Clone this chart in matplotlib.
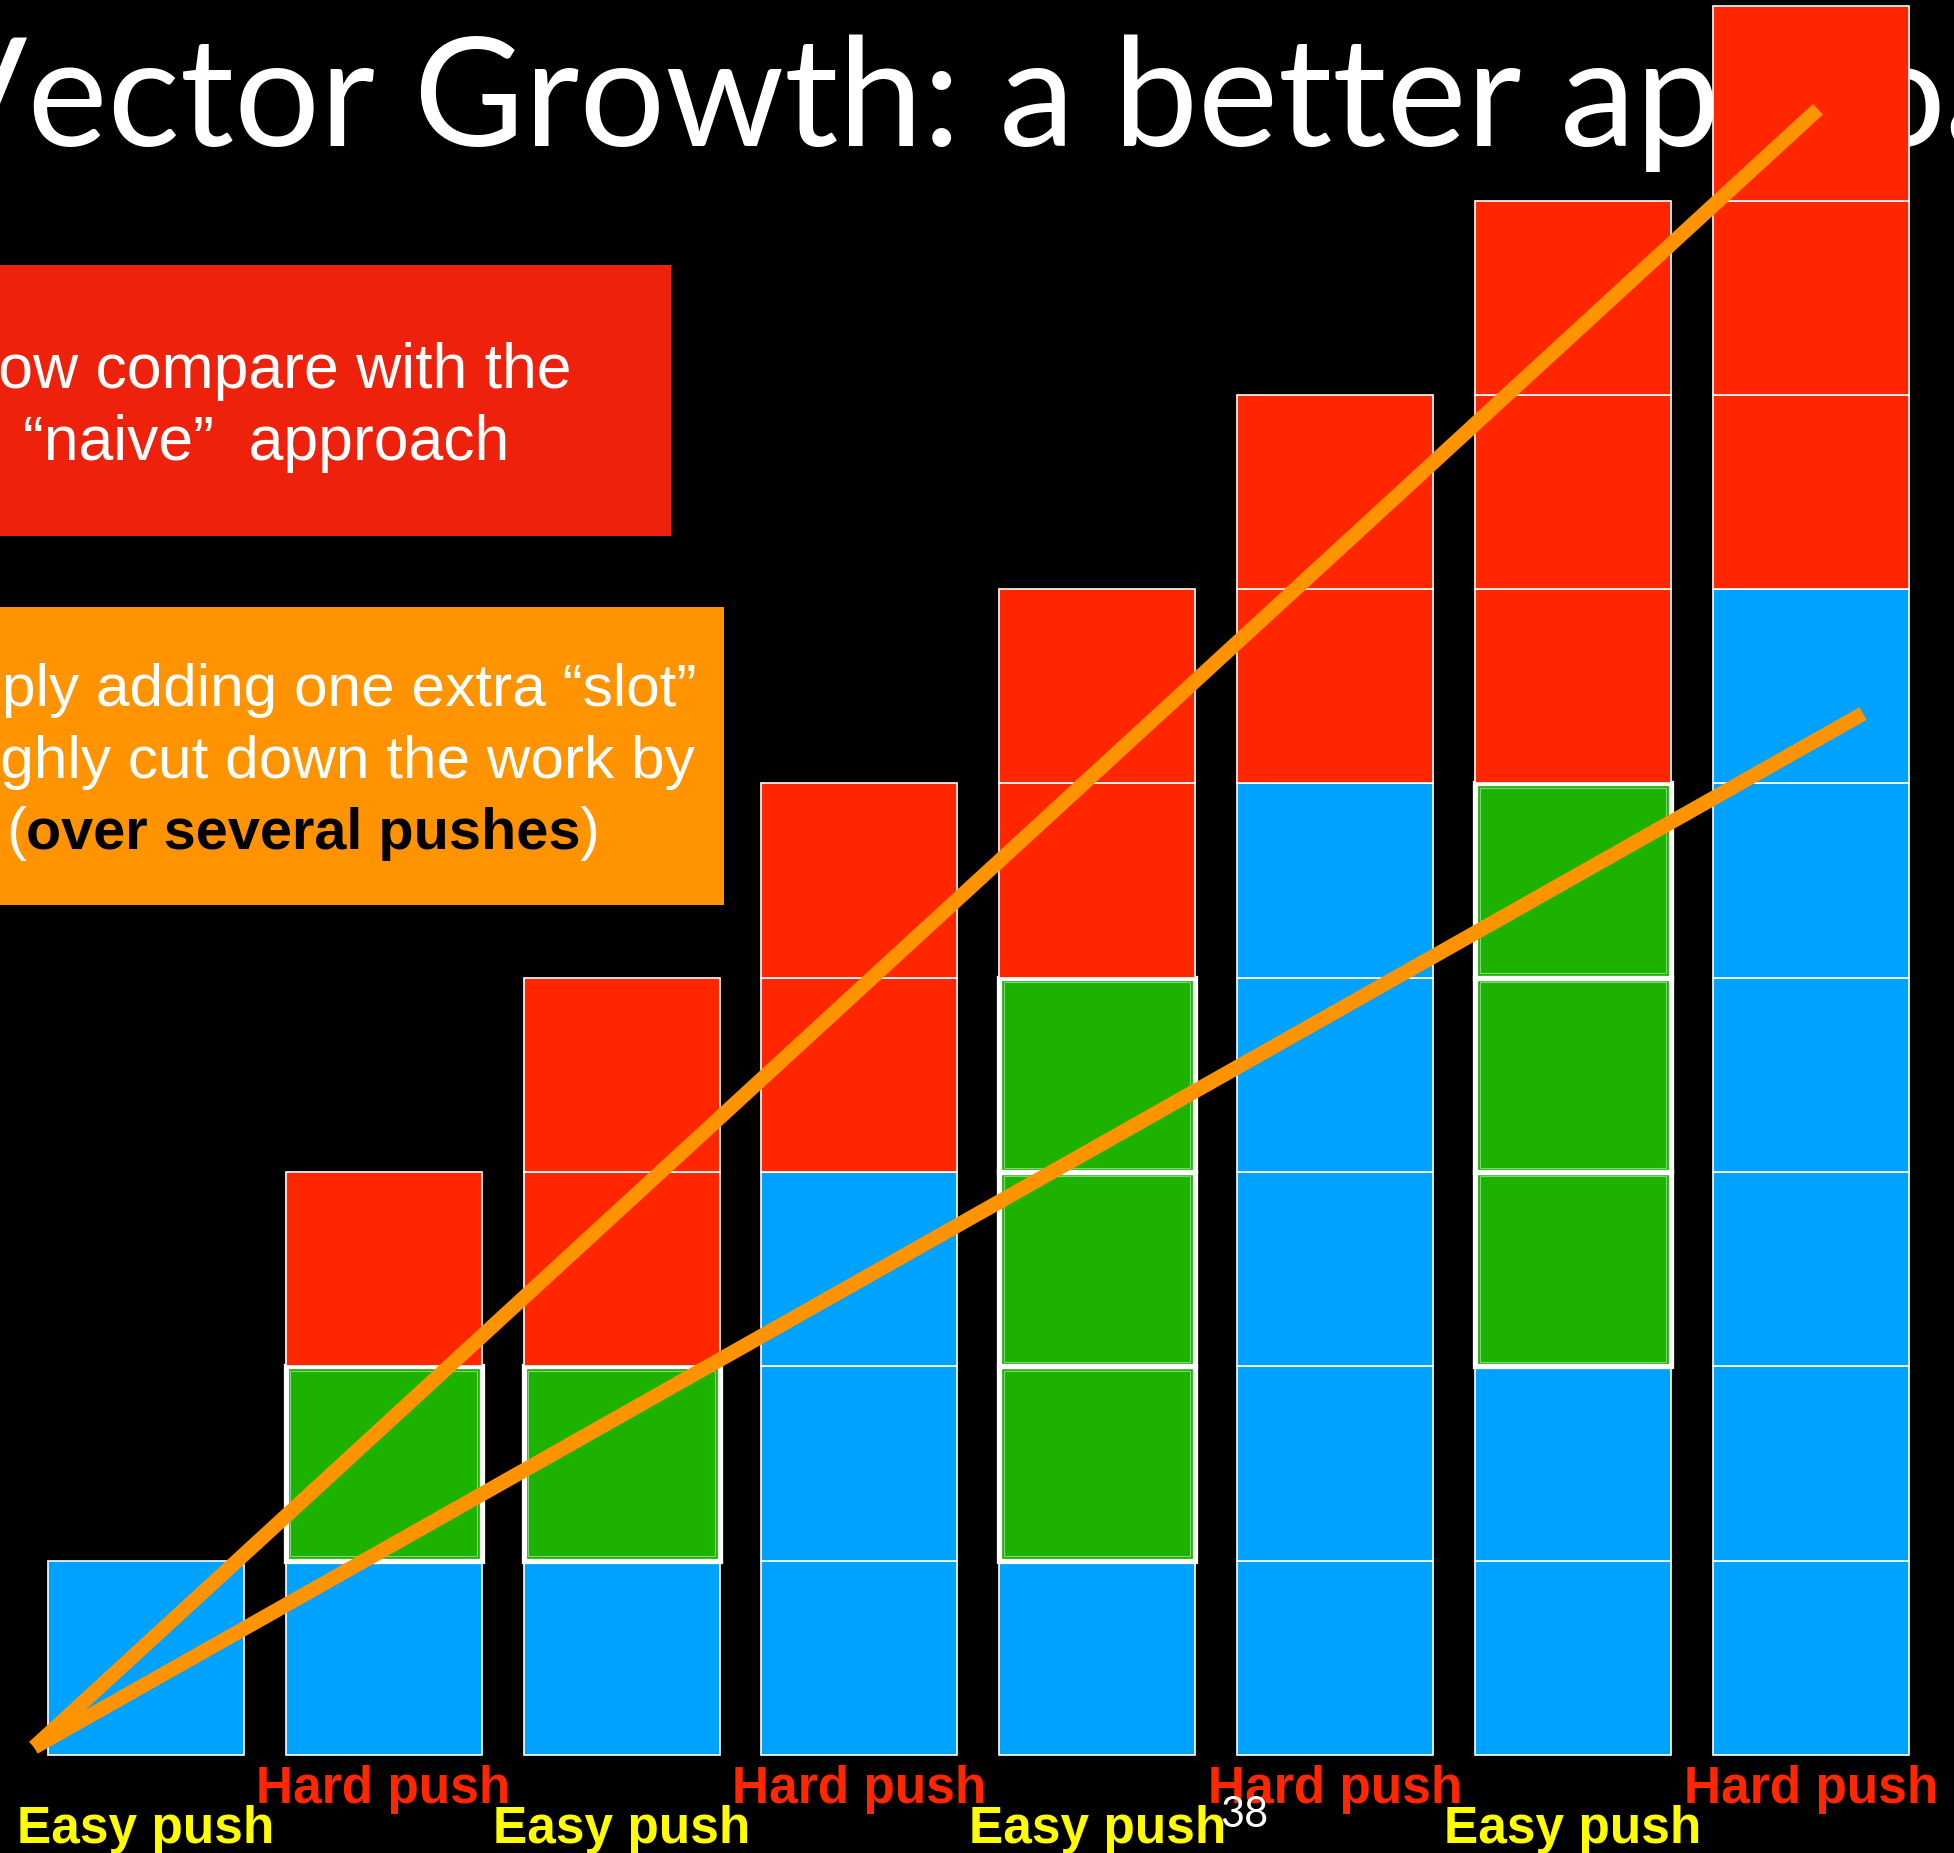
import matplotlib
matplotlib.use("Agg")
import matplotlib.pyplot as plt
from matplotlib.patches import Rectangle

# slots per push, bottom to top: filled (blue), copied (green), spare (red)
pushes = ["Easy push", "Hard push", "Easy push", "Hard push",
          "Easy push", "Hard push", "Easy push", "Hard push"]
filled = [1, 1, 1, 3, 1, 5, 2, 6]
copied = [0, 1, 1, 0, 3, 0, 3, 0]
spare = [0, 1, 2, 2, 2, 2, 3, 3]

# work trend lines (column index, slots)
naive_x = [-0.47, 7.03]
naive_y = [0.04, 8.47]
better_x = [-0.47, 7.22]
better_y = [0.04, 5.36]

BLUE, GREEN, RED = "#00A2FF", "#1DB100", "#FF2600"
ORANGE, BOXRED, YELLOW = "#FF9300", "#EE220C", "#FFFB00"
W, H = 1954, 1853


def fx(px):
    return px / W


def fy(py):
    return 1 - py / H


fig = plt.figure(figsize=(W / 100, H / 100), dpi=100, facecolor="black")
ax = fig.add_axes([0, 0, 1, 1])
ax.set_facecolor("black")
ax.set_xlim(-0.613, 7.602)
ax.set_ylim(-0.504, 9.032)
ax.axis("off")

# title sits under the stacks
ax.text(fx(-75), fy(146), "Vector Growth: a better approach", transform=fig.transFigure,
        fontsize=109, family="Lato", fontweight="normal", color="white",
        va="baseline", ha="left", zorder=0.5)

bw = 0.824
for i in range(len(pushes)):
    level = 0
    for k in range(filled[i]):
        ax.bar(i, 1, bottom=level, width=bw, color=BLUE, edgecolor="white", linewidth=1.2, zorder=2)
        level += 1
    for k in range(copied[i]):
        ax.bar(i, 1, bottom=level, width=bw, color=GREEN, edgecolor="white", linewidth=3.8, zorder=2)
        ax.bar(i, 0.955, bottom=level + 0.0225, width=bw - 0.04, color="none",
               edgecolor="#7FD67A", linewidth=0.8, zorder=2.1)
        level += 1
    for k in range(spare[i]):
        ax.bar(i, 1, bottom=level, width=bw, color=RED, edgecolor="white", linewidth=1.2, zorder=2)
        level += 1

ax.plot(naive_x, naive_y, color=ORANGE, lw=10.5, solid_capstyle="butt", zorder=4)
ax.plot(better_x, better_y, color=ORANGE, lw=10.5, solid_capstyle="butt", zorder=4)

for i, lab in enumerate(pushes):
    if lab.startswith("Hard"):
        ax.text(i, -0.247, lab, color=RED, fontsize=37, family="Liberation Sans",
                fontweight="bold", ha="center", va="baseline", zorder=5)
    else:
        ax.text(i, -0.455, lab, color=YELLOW, fontsize=37, family="Liberation Sans",
                fontweight="bold", ha="center", va="baseline", zorder=5)

ax.text(fx(1244), fy(1827), "38", transform=fig.transFigure, color="white",
        fontsize=30, family="Lato", fontweight="normal", ha="center", va="baseline", zorder=6)

# callout boxes
ax.add_patch(Rectangle((0, fy(536)), fx(671), fy(265) - fy(536), transform=fig.transFigure,
                       facecolor=BOXRED, edgecolor="none", zorder=1))
ax.add_patch(Rectangle((0, fy(905)), fx(724), fy(607) - fy(905), transform=fig.transFigure,
                       facecolor=ORANGE, edgecolor="none", zorder=1))

box_font = dict(family="Liberation Sans", va="baseline", zorder=3,
                transform=fig.transFigure)
ax.text(fx(262), fy(388), "Now compare with the", color="white", ha="center", fontsize=45, **box_font)
ax.text(fx(266), fy(460), "\u201cnaive\u201d  approach", color="white", ha="center", fontsize=45, **box_font)
ax.text(fx(696), fy(706), "Simply adding one extra \u201cslot\u201d", color="white", ha="right",
        fontsize=43.5, **box_font)
ax.text(fx(695), fy(778), "roughly cut down the work by", color="white", ha="right",
        fontsize=43.5, **box_font)

# last line mixes white brackets with bold black words
r = fig.canvas.get_renderer()
t = ax.text(fx(600), fy(849), ")", color="white", ha="right", fontsize=43, **box_font)
x0 = t.get_window_extent(renderer=r).x0
t = ax.text(x0 / W, fy(849), "over several pushes", color="black", ha="right",
            fontweight="bold", fontsize=41.5, **box_font)
x0 = t.get_window_extent(renderer=r).x0
ax.text(x0 / W, fy(849), "(", color="white", ha="right", fontsize=43, **box_font)

fig.savefig("out.png", dpi=100, facecolor="black")
